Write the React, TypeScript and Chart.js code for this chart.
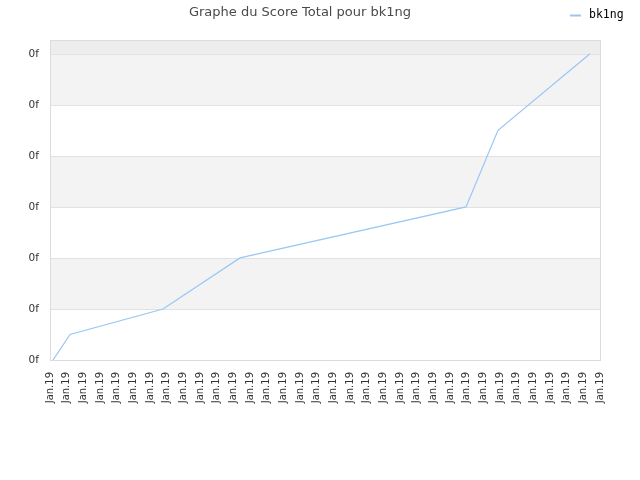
import { useEffect, useRef } from 'react';
import { Chart, registerables } from 'chart.js';

Chart.register(...registerables);

// position of each score on the date axis, in tick steps
const datePositions = [0.18, 1.2, 6.78, 11.4, 24.96, 26.88, 32.4];
const scores = [0, 0.5, 1, 2, 3, 4.5, 6];
const tickCount = 34;
const xTickLabel = 'Jan.19';
const yTickLabel = '0f';
const seriesName = 'bk1ng';
const title = 'Graphe du Score Total pour bk1ng';

const lineColor = '#99c7f5';

// alternating background bands + frame around the plot
const bandsPlugin = {
    id: 'bands',
    beforeDatasetsDraw(chart: any) {
        const { ctx, chartArea, scales } = chart;
        const y = scales.y;
        ctx.save();
        ctx.fillStyle = '#ededed';
        ctx.fillRect(chartArea.left, chartArea.top, chartArea.width, chartArea.height);
        const ticks = y.ticks.map((t: any) => t.value);
        for (let i = 0; i < ticks.length - 1; i++) {
            const top = y.getPixelForValue(ticks[i + 1]);
            const bottom = y.getPixelForValue(ticks[i]);
            ctx.fillStyle = i % 2 === 0 ? '#ffffff' : '#f3f3f3';
            ctx.fillRect(chartArea.left, top, chartArea.width, bottom - top);
        }
        ctx.strokeStyle = '#e2e2e2';
        ctx.lineWidth = 1;
        for (const v of ticks) {
            const py = Math.round(y.getPixelForValue(v)) + 0.5;
            ctx.beginPath();
            ctx.moveTo(chartArea.left, py);
            ctx.lineTo(chartArea.right, py);
            ctx.stroke();
        }
        ctx.strokeStyle = '#dcdcdc';
        ctx.strokeRect(chartArea.left + 0.5, chartArea.top + 0.5, chartArea.width, chartArea.height);
        ctx.restore();
    },
};

// legend on the same row as the title, top right
const legendPlugin = {
    id: 'sideLegend',
    afterDraw(chart: any) {
        const { ctx } = chart;
        const ds = chart.data.datasets[0];
        ctx.save();
        ctx.strokeStyle = ds.borderColor;
        ctx.lineWidth = 2;
        ctx.beginPath();
        ctx.moveTo(570, 15.5);
        ctx.lineTo(581, 15.5);
        ctx.stroke();
        ctx.fillStyle = '#000';
        ctx.font = '11.5px "DejaVu Sans Mono"';
        ctx.textBaseline = 'middle';
        ctx.fillText(ds.label, 589, 15);
        ctx.restore();
    },
};

const App = () => {
    const canvasRef = useRef<HTMLCanvasElement | null>(null);

    useEffect(() => {
        if (!canvasRef.current) return;
        const chart = new Chart(canvasRef.current, {
            type: 'line',
            data: {
                datasets: [
                    {
                        label: seriesName,
                        data: datePositions.map((x, i) => ({ x, y: scores[i] })),
                        borderColor: lineColor,
                        borderWidth: 1.2,
                        pointRadius: 0,
                        tension: 0,
                    },
                ],
            },
            options: {
                responsive: false,
                animation: false,
                layout: { padding: { top: 0, right: 40, left: 0, bottom: 0 } },
                plugins: {
                    legend: { display: false },
                    tooltip: { enabled: false },
                    title: {
                        display: true,
                        text: title,
                        color: '#4a4a4a',
                        font: { family: 'DejaVu Sans', size: 13, weight: 'normal' },
                        padding: { top: 5, bottom: 19.4 },
                    },
                },
                scales: {
                    x: {
                        type: 'linear',
                        min: 0,
                        max: tickCount - 1,
                        grid: { display: false },
                        border: { display: false },
                        afterFit: (scale: any) => { scale.height = 120; },
                        ticks: {
                            stepSize: 1,
                            autoSkip: false,
                            minRotation: 90,
                            maxRotation: 90,
                            padding: 4,
                            color: '#333',
                            font: { family: 'DejaVu Sans', size: 10 },
                            callback: () => xTickLabel,
                        },
                    },
                    y: {
                        min: 0,
                        max: 6.27,
                        grid: { display: false, drawTicks: false },
                        border: { display: false },
                        afterFit: (scale: any) => { scale.width = 50; },
                        afterBuildTicks: (scale: any) => {
                            scale.ticks = scale.ticks.filter((t: any) => Number.isInteger(t.value));
                        },
                        ticks: {
                            stepSize: 1,
                            padding: 11,
                            color: '#333',
                            font: { family: 'DejaVu Sans', size: 10.5 },
                            callback: () => yTickLabel,
                        },
                    },
                },
            },
            plugins: [bandsPlugin, legendPlugin],
        });
        return () => chart.destroy();
    }, []);

    return (
        <div style={{ position: 'absolute', left: 0, top: 0, width: 640, height: 480 }}>
            <canvas ref={canvasRef} width={640} height={480} />
        </div>
    );
};

export default App;
